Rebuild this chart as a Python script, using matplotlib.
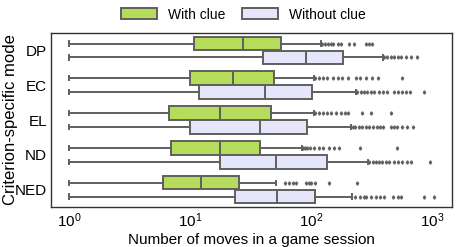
import matplotlib
matplotlib.use("Agg")
import matplotlib.pyplot as plt
import numpy as np

plt.rcParams["font.family"] = ["Liberation Sans", "DejaVu Sans"]
plt.rcParams["mathtext.default"] = "regular"

modes = ["DP", "EC", "EL", "ND", "NED"]
hues = ["With clue", "Without clue"]
colors = ["#b5dc5a", "#e6e6fa"]
edge = "#5f5f5f"

# box stats per mode: [with clue, without clue]
whislo = [[1, 1], [1, 1], [1, 1], [1, 1], [1, 1]]
q1 = [[10.8, 39.6], [9.9, 11.8], [6.7, 9.9], [6.9, 17.7], [5.95, 23.5]]
med = [[27, 90], [22.4, 41.4], [17.6, 37.9], [17.7, 51], [12.3, 52]]
q3 = [[56, 183], [49, 102], [46, 92], [37.9, 135], [25.3, 108]]
whishi = [[121, 392], [106, 235], [105, 214], [84, 294], [51, 217]]
fliers = [
    [[123, 130, 138, 145, 152, 165, 175, 205, 224, 282, 300, 316],
     [400, 420, 450, 480, 520, 550, 600, 660, 740]],
    [[108, 115, 125, 135, 150, 165, 180, 200, 235, 250, 280, 316, 355, 560],
     [240, 255, 270, 290, 310, 330, 360, 390, 420, 480, 520, 560, 600, 650, 850]],
    [[108, 115, 125, 135, 145, 160, 175, 190, 200, 263, 309, 457],
     [220, 230, 245, 260, 280, 300, 325, 350, 370, 390, 450, 480, 510, 560, 620, 690]],
    [[85, 88, 92, 98, 105, 115, 125, 140, 155, 170, 250, 510],
     [300, 320, 340, 360, 380, 410, 440, 480, 520, 560, 620, 660, 960]],
    [[60, 65, 70, 74, 90, 95, 100, 107, 141, 240],
     [230, 250, 270, 285, 310, 340, 365, 400, 470, 520, 550, 850, 1020]],
]

fig = plt.figure(figsize=(4.57, 2.47), dpi=100)
ax = fig.add_axes([0.112, 0.162, 0.876, 0.704])

bw = 0.4
for j, hue in enumerate(hues):
    stats = []
    for i in range(len(modes)):
        stats.append(dict(whislo=whislo[i][j], q1=q1[i][j], med=med[i][j],
                          q3=q3[i][j], whishi=whishi[i][j], fliers=fliers[i][j]))
    pos = np.arange(len(modes)) - 0.2 + j * bw
    ax.bxp(stats, positions=pos, widths=bw * 0.98, vert=False, patch_artist=True,
           capwidths=0.12, manage_ticks=False,
           boxprops=dict(facecolor=colors[j], edgecolor=edge, linewidth=1.4),
           medianprops=dict(color=edge, linewidth=1.4),
           whiskerprops=dict(color=edge, linewidth=1.4),
           capprops=dict(color=edge, linewidth=1.4),
           flierprops=dict(marker="d", markersize=1.7, markerfacecolor=edge,
                           markeredgecolor=edge, linestyle="none"))
    ax.bar(0, 0, color=colors[j], edgecolor=edge, linewidth=1.4, label=hue)

ax.set_xscale("log")
ax.set_xlim(10 ** -0.149, 10 ** 3.157)
ax.set_ylim(4.5, -0.5)
ax.set_yticks(range(len(modes)))
ax.set_yticklabels(modes, fontsize=11)
ax.tick_params(axis="both", length=0, labelsize=11, pad=3)
ax.minorticks_off()
ax.set_xticks([1, 10, 100, 1000])
ax.set_xlabel("Number of moves in a game session", fontsize=11, labelpad=2)
ax.set_ylabel("Criterion-specific mode", fontsize=12)
ax.yaxis.set_label_coords(-0.083, 0.5)
for s in ax.spines.values():
    s.set_color("#333333")
    s.set_linewidth(1.0)

fig.legend(loc="upper center", bbox_to_anchor=(0.532, 1.02), ncol=2, frameon=False,
           fontsize=10, handlelength=2.6, handleheight=0.8, columnspacing=1.2)

fig.savefig("out.png", dpi=100)
